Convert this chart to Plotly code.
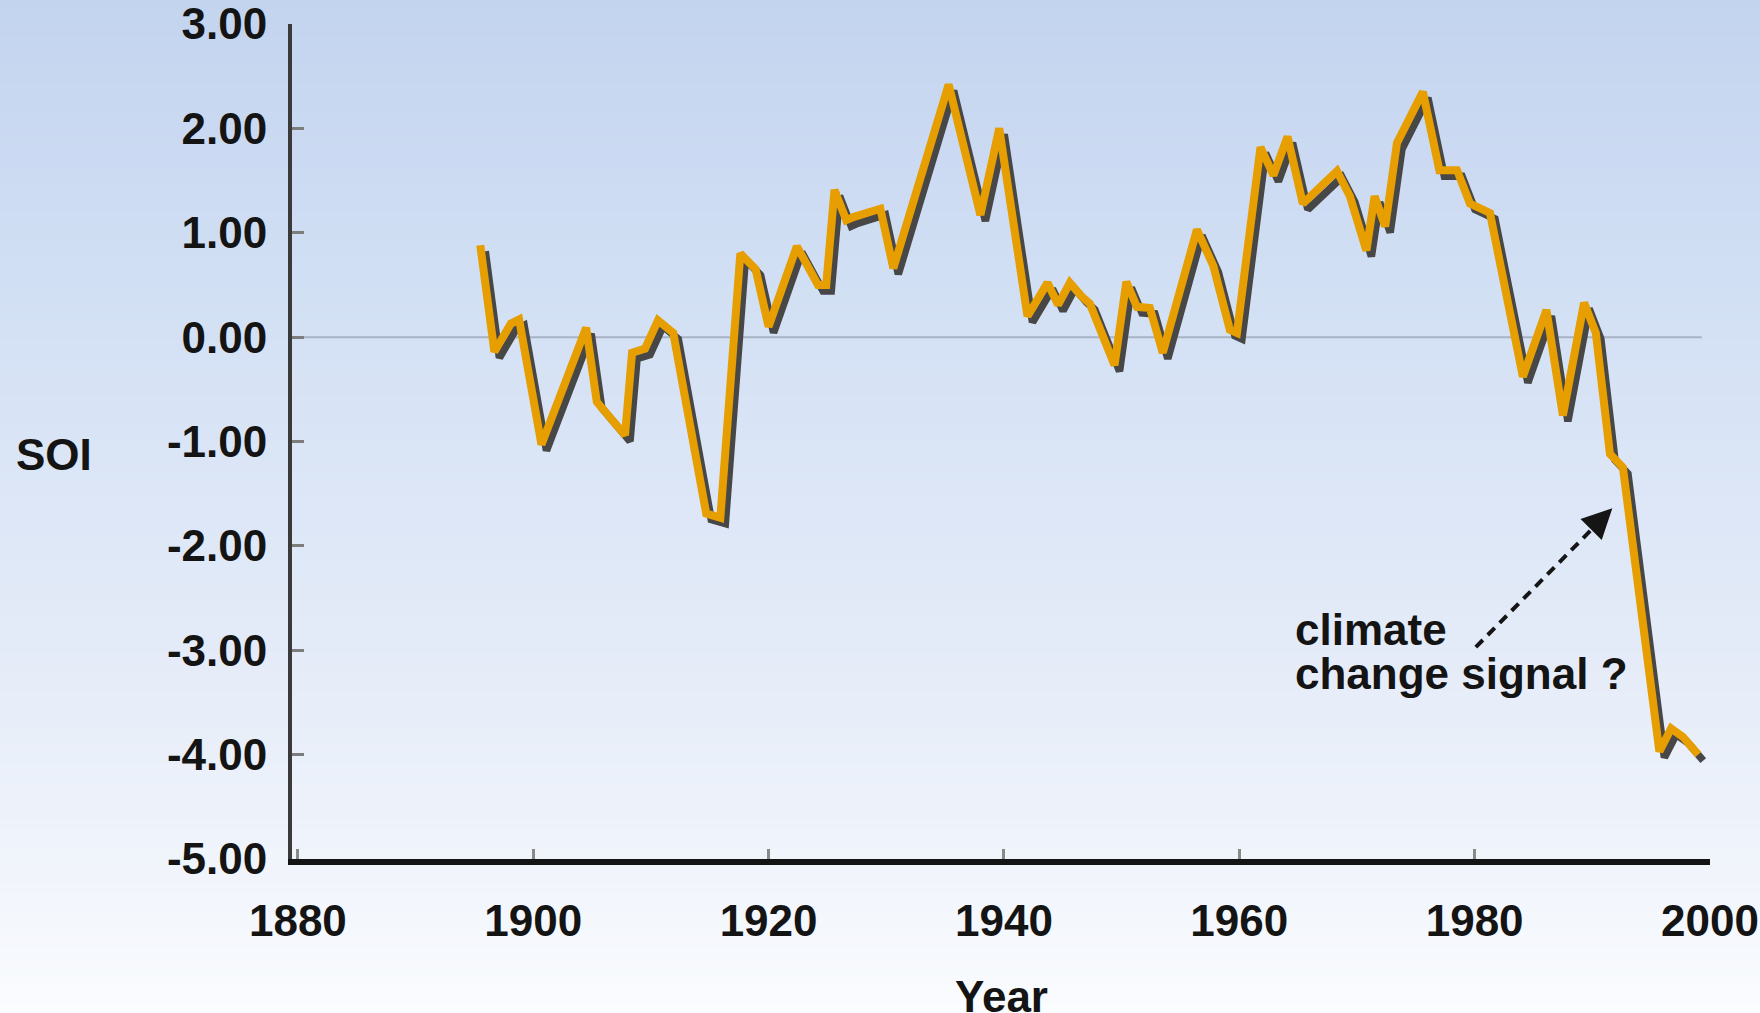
import plotly.graph_objects as go

# ---------------- data ----------------
years = [1895.5, 1896.7, 1898.1, 1898.8, 1900.7, 1904.5, 1905.4, 1907.8, 1908.4, 1909.5,
         1910.6, 1911.9, 1914.7, 1915.9, 1917.6, 1918.9, 1920.0, 1922.4, 1924.2, 1924.9,
         1925.6, 1926.6, 1927.2, 1929.5, 1930.6, 1935.3, 1938.0, 1939.6, 1942.0, 1943.7,
         1944.6, 1945.6, 1946.6, 1947.3, 1949.4, 1950.4, 1951.3, 1952.4, 1953.5, 1956.4,
         1957.8, 1959.2, 1959.8, 1961.8, 1962.9, 1964.1, 1965.4, 1968.3, 1969.4, 1970.8,
         1971.5, 1972.4, 1973.4, 1975.6, 1977.0, 1978.5, 1979.6, 1981.3, 1984.1, 1986.1,
         1987.5, 1989.3, 1990.3, 1991.5, 1992.6, 1995.7, 1996.7, 1997.7, 1999.0]
soi = [0.88, -0.14, 0.13, 0.17, -1.03, 0.09, -0.62, -0.94, -0.15, -0.11,
       0.16, 0.04, -1.69, -1.73, 0.80, 0.65, 0.10, 0.87, 0.50, 0.50,
       1.41, 1.12, 1.15, 1.23, 0.66, 2.42, 1.17, 2.00, 0.20, 0.52,
       0.31, 0.52, 0.39, 0.32, -0.27, 0.53, 0.29, 0.28, -0.15, 1.03,
       0.68, 0.07, 0.04, 1.82, 1.55, 1.92, 1.28, 1.59, 1.35, 0.83,
       1.35, 1.06, 1.86, 2.35, 1.60, 1.60, 1.28, 1.19, -0.38, 0.26,
       -0.75, 0.33, 0.04, -1.12, -1.25, -3.97, -3.75, -3.83, -4.00]

y_ticks = [3, 2, 1, 0, -1, -2, -3, -4, -5]
y_tick_labels = ["3.00", "2.00", "1.00", "0.00", "-1.00", "-2.00", "-3.00", "-4.00", "-5.00"]
x_ticks = [1880, 1900, 1920, 1940, 1960, 1980, 2000]
x_tick_labels = ["1880", "1900", "1920", "1940", "1960", "1980", "2000"]

y_title = "SOI"
x_title = "Year"
note_lines = ["climate", "change signal ?"]
zero_line_end = 1999.3

# ---------------- layout geometry / style ----------------
W, H = 1760, 1013
L, R, T, B = 292, 50, 24, 154
X_RANGE = [1879.5, 2000]
Y_RANGE = [-5, 3]
PW, PH = W - L - R, H - T - B
PX_PER_YEAR = PW / (X_RANGE[1] - X_RANGE[0])
PX_PER_UNIT = PH / (Y_RANGE[1] - Y_RANGE[0])
SHADOW_DX, SHADOW_DY = 5, 6

FONT = dict(family="Liberation Sans, Arial, sans-serif", size=44, color="#141414", weight="bold")
ORANGE = "#E69E00"
SHADOW = "#474747"


def paper_x(px):
    return (px - L) / PW


def paper_y(py):
    return (H - B - py) / PH


fig = go.Figure()

# shadow line (same data, drawn on an overlay axis shifted a few pixels)
fig.add_trace(go.Scatter(x=years, y=soi, mode="lines", xaxis="x2", yaxis="y2",
                         line=dict(color=SHADOW, width=7.5), hoverinfo="skip", showlegend=False))
# main orange line
fig.add_trace(go.Scatter(x=years, y=soi, mode="lines", xaxis="x3", yaxis="y3",
                         line=dict(color=ORANGE, width=8), showlegend=False))

# background vertical gradient (light blue at the top -> near white at the bottom)
stops = [(0, (195, 212, 239)), (350, (213, 226, 245)), (650, (228, 235, 248)),
         (860, (240, 244, 251)), (1013, (250, 252, 254))]


def grad_color(py):
    for (p0, c0), (p1, c1) in zip(stops[:-1], stops[1:]):
        if p0 <= py <= p1:
            t = (py - p0) / (p1 - p0)
            return "rgb(%d,%d,%d)" % tuple(round(a + (b - a) * t) for a, b in zip(c0, c1))
    return "rgb(%d,%d,%d)" % stops[-1][1]


shapes = []
N = 110
band = H / N
for i in range(N):
    top = i * band - (2 if i == 0 else 0)
    bot = (i + 1) * band + 1
    shapes.append(dict(type="rect", xref="paper", yref="paper", layer="below",
                       x0=paper_x(-5), x1=paper_x(W + 5), y0=paper_y(bot), y1=paper_y(top),
                       line=dict(width=0), fillcolor=grad_color((top + bot) / 2)))

# zero reference line
shapes.append(dict(type="line", xref="x", yref="y", layer="below",
                   x0=X_RANGE[0], x1=zero_line_end, y0=0, y1=0,
                   line=dict(color="#a8b3c3", width=2)))

# dashed arrow shaft
arrow_tail = (1980.1, -2.97)
arrow_head = (1991.7, -1.64)
shapes.append(dict(type="line", xref="x", yref="y", x0=arrow_tail[0], y0=arrow_tail[1],
                   x1=arrow_head[0] - 0.6, y1=arrow_head[1] - 0.07,
                   line=dict(color="#151515", width=4, dash="10px,7px")))

annotations = [
    dict(text=y_title, xref="paper", yref="paper", x=paper_x(54), y=paper_y(454),
         showarrow=False, font=FONT, xanchor="center", yanchor="middle"),
    dict(text=x_title, xref="paper", yref="paper", x=paper_x(1001), y=paper_y(996),
         showarrow=False, font=FONT, xanchor="center", yanchor="middle"),
    dict(text=note_lines[0], xref="x", yref="y", x=1964.6, y=-2.80,
         showarrow=False, font=FONT, xanchor="left", yanchor="middle"),
    dict(text=note_lines[1], xref="x", yref="y", x=1964.6, y=-3.22,
         showarrow=False, font=FONT, xanchor="left", yanchor="middle"),
    # arrow head
    dict(text="", xref="x", yref="y", x=arrow_head[0], y=arrow_head[1],
         ax=-16, ay=16, showarrow=True, arrowhead=2, arrowsize=1.5, arrowwidth=4,
         arrowcolor="#151515", standoff=0),
]

axis_common = dict(showgrid=False, fixedrange=True, automargin=False)
fig.update_layout(
    width=W, height=H, autosize=False,
    margin=dict(l=L, r=R, t=T, b=B, pad=0, autoexpand=False),
    paper_bgcolor="white", plot_bgcolor="rgba(0,0,0,0)",
    showlegend=False,
    shapes=shapes, annotations=annotations,
    xaxis=dict(range=X_RANGE, tickvals=x_ticks, ticktext=x_tick_labels, tickfont=FONT,
               showline=True, linecolor="#141414", linewidth=6,
               ticks="inside", ticklen=10, tickwidth=3, tickcolor="#8a8a8a",
               zeroline=False, ticklabelstandoff=18, ticklabeloverflow="allow", **axis_common),
    yaxis=dict(range=Y_RANGE, tickvals=y_ticks, ticktext=y_tick_labels, tickfont=FONT,
               showline=True, linecolor="#3a3a3a", linewidth=4,
               ticks="inside", ticklen=12, tickwidth=3, tickcolor="#7d7d7d",
               zeroline=False, ticklabelstandoff=12, ticklabeloverflow="allow", **axis_common),
    xaxis2=dict(range=[X_RANGE[0] - SHADOW_DX / PX_PER_YEAR, X_RANGE[1] - SHADOW_DX / PX_PER_YEAR],
                overlaying="x", visible=False, **axis_common),
    yaxis2=dict(range=[Y_RANGE[0] + SHADOW_DY / PX_PER_UNIT, Y_RANGE[1] + SHADOW_DY / PX_PER_UNIT],
                overlaying="y", visible=False, **axis_common),
    xaxis3=dict(range=X_RANGE, overlaying="x", visible=False, **axis_common),
    yaxis3=dict(range=Y_RANGE, overlaying="y", visible=False, **axis_common),
)

fig.write_html("out.html", config={"displayModeBar": False, "staticPlot": True},
               post_script="document.body.style.margin='0';document.body.style.overflow='hidden';")
